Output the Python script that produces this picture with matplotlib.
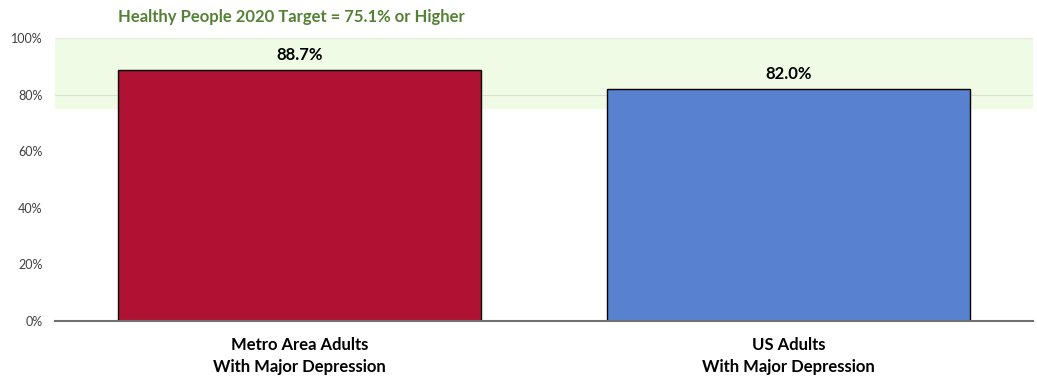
import matplotlib.pyplot as plt
from matplotlib.ticker import PercentFormatter

categories = ['Metro Area Adults\nWith Major Depression', 'US Adults\nWith Major Depression']
values = [88.7, 82.0]
bar_colors = ['#B01233', '#5882D0']
target = 75.1
subtitle = 'Healthy People 2020 Target = 75.1% or Higher'

plt.rcParams['font.family'] = ['Lato', 'DejaVu Sans']

fig = plt.figure(figsize=(10.37, 3.76), dpi=100)
ax = fig.add_axes([0.053, 0.147, 0.943, 0.752])

# target band
ax.axhspan(target, 100, color='#F0FBE6', zorder=0)
ax.axhline(80, color='#D6E2CC', lw=0.8, zorder=0.5)
ax.axhline(100, color='#E3EDDA', lw=0.8, zorder=0.5)

x = range(len(categories))
bars = ax.bar(x, values, width=0.743, color=bar_colors, edgecolor='black', linewidth=1, zorder=2)
for xi, v in zip(x, values):
    ax.text(xi, v + 2.5, f'{v:.1f}%', ha='center', va='bottom', fontsize=12, fontweight='bold', color='black')

ax.set_xlim(-0.5, 1.5)
ax.set_ylim(0, 100)
ax.set_yticks([0, 20, 40, 60, 80, 100])
ax.yaxis.set_major_formatter(PercentFormatter(decimals=0))
ax.set_xticks(list(x))
ax.set_xticklabels(categories, fontsize=12, fontweight='bold', color='black', linespacing=1.45)
ax.tick_params(axis='y', length=0, labelsize=9, labelcolor='#404040', pad=9)
ax.tick_params(axis='x', length=0, pad=12)

for s in ['top', 'right', 'left']:
    ax.spines[s].set_visible(False)
ax.spines['bottom'].set_color('#707070')
ax.spines['bottom'].set_linewidth(1.5)
ax.spines['bottom'].set_zorder(3)

fig.text(0.114, 0.955, subtitle, ha='left', va='center', fontsize=12, fontweight='bold', color='#548235')

fig.savefig('out.png', dpi=100)
